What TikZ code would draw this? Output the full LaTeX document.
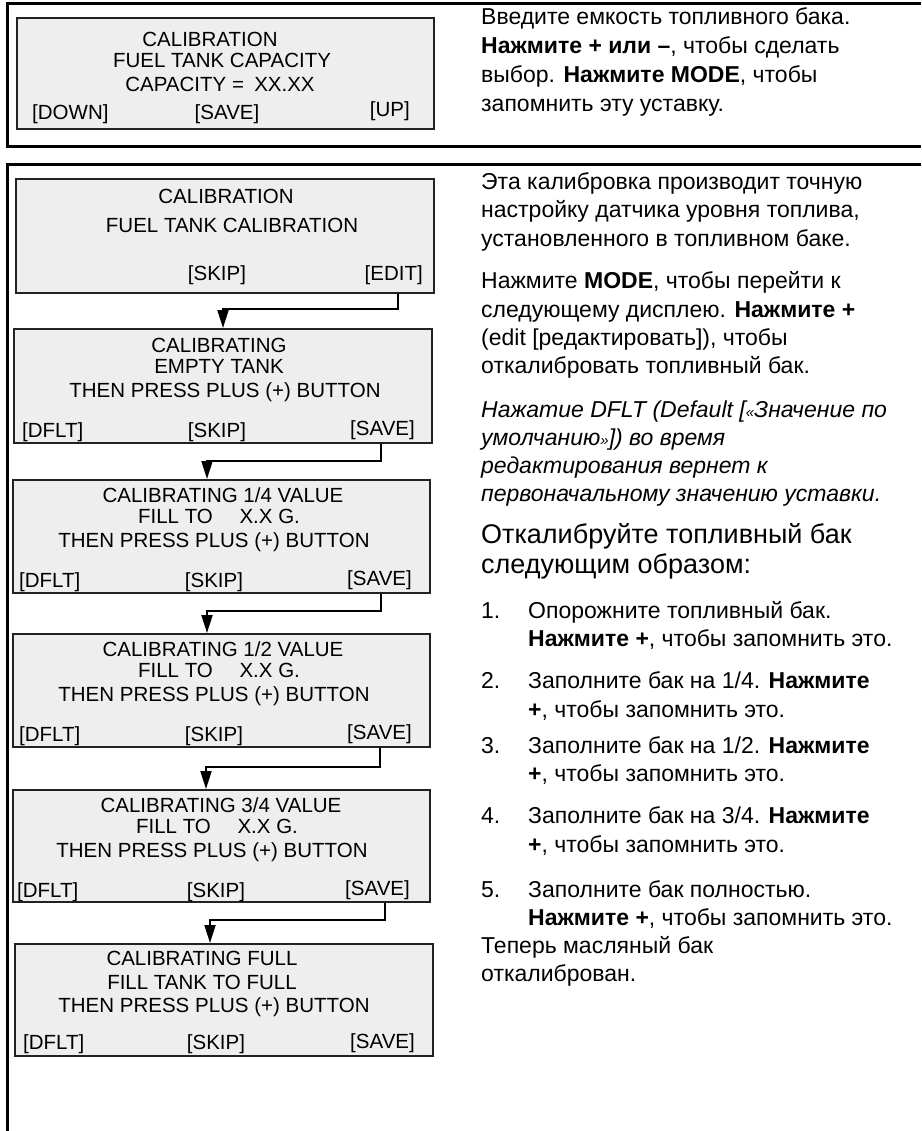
\documentclass[tikz,border=0pt]{standalone}
\usepackage{fontspec}
\setmainfont{Liberation Sans}
\usetikzlibrary{arrows.meta}
\definecolor{boxgray}{HTML}{EEEEEE}
\definecolor{boxline}{HTML}{222222}
\newcommand{\smq}[1]{{\fontsize{15}{15}\selectfont #1}}
\tikzset{
  panelframe/.style={line width=3pt, line cap=butt},
  lcd/.style={draw=boxline, line width=2pt, fill=boxgray, rectangle, inner sep=0pt, anchor=north west},
  btxt/.style={font=\fontsize{20.5}{22}\selectfont, inner sep=0pt, anchor=base},
  bl/.style={btxt, anchor=base west},
  br/.style={btxt, anchor=base east},
  rtxt/.style={font=\fontsize{23}{28.5}\selectfont, inner sep=0pt, anchor=base west},
  rhead/.style={font=\fontsize{27}{30}\selectfont, inner sep=0pt, anchor=base west},
  conn/.style={line width=2pt, line join=miter, -{Triangle[length=18pt,width=11pt]}},
}
\begin{document}
\begin{tikzpicture}[x=1pt,y=-1pt]
\useasboundingbox (0,0) rectangle (921,1131);
% panel frames
\draw[panelframe] (921,3.3) -- (7.5,3.3) -- (7.5,146.7) -- (921,146.7);
\draw[panelframe] (921,165) -- (7.5,165) -- (7.5,1131);

% ---------- box 1
\node[lcd, minimum width=417pt, minimum height=111pt] (b1) at (16,17) {};
\node[btxt] (b1a) at (210,47) {CALIBRATION};
\node[btxt] (b1b) at (222,68) {FUEL TANK CAPACITY};
\node[btxt] (b1c) at (220,92) {CAPACITY =\hspace{0.5em}XX.XX};
\node[bl] (b1d) at (32,120) {[DOWN]};
\node[btxt] (b1e) at (227,120) {[SAVE]};
\node[br] (b1f) at (410,117) {[UP]};

% ---------- box 2
\node[lcd, minimum width=418pt, minimum height=114pt] (b2) at (15,178) {};
\node[btxt] (b2a) at (226,204) {CALIBRATION};
\node[btxt] (b2b) at (232,233) {FUEL TANK CALIBRATION};
\node[btxt] (b2c) at (217,280) {[SKIP]};
\node[br] (b2d) at (423,280) {[EDIT]};

% ---------- box 3
\node[lcd, minimum width=418pt, minimum height=114pt] (b3) at (13,328) {};
\node[btxt] (b3a) at (219,352) {CALIBRATING};
\node[btxt] (b3b) at (219,373) {EMPTY TANK};
\node[btxt] (b3c) at (225,397) {THEN PRESS PLUS (+) BUTTON};
\node[bl] (b3d) at (22,437) {[DFLT]};
\node[btxt] (b3e) at (217,437) {[SKIP]};
\node[br] (b3f) at (415,435) {[SAVE]};

% ---------- box 4
\node[lcd, minimum width=417pt, minimum height=113pt] (b4) at (12,479) {};
\node[btxt] (b4a) at (223,502) {CALIBRATING 1/4 VALUE};
\node[btxt] (b4b) at (219,523) {FILL TO\hspace{1.3em}X.X G.};
\node[btxt] (b4c) at (214,547) {THEN PRESS PLUS (+) BUTTON};
\node[bl] (b4d) at (19,587) {[DFLT]};
\node[btxt] (b4e) at (214,587) {[SKIP]};
\node[br] (b4f) at (412,585) {[SAVE]};

% ---------- box 5
\node[lcd, minimum width=417pt, minimum height=113pt] (b5) at (12,633) {};
\node[btxt] (b5a) at (223,656) {CALIBRATING 1/2 VALUE};
\node[btxt] (b5b) at (219,677) {FILL TO\hspace{1.3em}X.X G.};
\node[btxt] (b5c) at (214,701) {THEN PRESS PLUS (+) BUTTON};
\node[bl] (b5d) at (19,741) {[DFLT]};
\node[btxt] (b5e) at (214,741) {[SKIP]};
\node[br] (b5f) at (412,739) {[SAVE]};

% ---------- box 6
\node[lcd, minimum width=417pt, minimum height=112pt] (b6) at (12,789) {};
\node[btxt] (b6a) at (221,812) {CALIBRATING 3/4 VALUE};
\node[btxt] (b6b) at (217,833) {FILL TO\hspace{1.3em}X.X G.};
\node[btxt] (b6c) at (212,857) {THEN PRESS PLUS (+) BUTTON};
\node[bl] (b6d) at (17,897) {[DFLT]};
\node[btxt] (b6e) at (216,897) {[SKIP]};
\node[br] (b6f) at (410,895) {[SAVE]};

% ---------- box 7
\node[lcd, minimum width=418pt, minimum height=112pt] (b7) at (14,943) {};
\node[btxt] (b7a) at (202,965) {CALIBRATING FULL};
\node[btxt] (b7b) at (202,989) {FILL TANK TO FULL};
\node[btxt] (b7c) at (214,1012) {THEN PRESS PLUS (+) BUTTON};
\node[bl] (b7d) at (23,1049) {[DFLT]};
\node[btxt] (b7e) at (216,1049) {[SKIP]};
\node[br] (b7f) at (415,1048) {[SAVE]};

% ---------- connectors
\draw[conn] ([xshift=-37pt]b2.south east) -- ++(0,15) -| ([xshift=210pt]b3.north west);
\draw[conn] ([xshift=-52pt]b3.south east) -- ++(0,17) -| ([xshift=195pt]b4.north west);
\draw[conn] ([xshift=-50pt]b4.south east) -- ++(0,17) -| ([xshift=195pt]b5.north west);
\draw[conn] ([xshift=-51pt]b5.south east) -- ++(0,19) -| ([xshift=194pt]b6.north west);
\draw[conn] ([xshift=-46pt]b6.south east) -- ++(0,17) -| ([xshift=196pt]b7.north west);

% ---------- right text, top panel
\node[rtxt] (r1) at (481,25) {Введите емкость топливного бака.};
\node[rtxt] (r2) at (481,54) {\textbf{Нажмите + или –}, чтобы сделать};
\node[rtxt] (r3) at (481,83) {выбор. \textbf{Нажмите MODE}, чтобы};
\node[rtxt] (r4) at (481,112) {запомнить эту уставку.};

% ---------- right text, lower panel
\node[rtxt] (s1) at (481,190) {Эта калибровка производит точную};
\node[rtxt] (s2) at (481,218) {настройку датчика уровня топлива,};
\node[rtxt] (s3) at (481,247) {установленного в топливном баке.};
\node[rtxt] (s4) at (481,288) {Нажмите \textbf{MODE}, чтобы перейти к};
\node[rtxt] (s5) at (481,317) {следующему дисплею. \textbf{Нажмите +}};
\node[rtxt] (s6) at (481,345) {(edit [редактировать]), чтобы};
\node[rtxt] (s7) at (481,373) {откалибровать топливный бак.};
\node[rtxt] (s8) at (481,417) {\itshape Нажатие DFLT (Default [\smq{«}Значение по};
\node[rtxt] (s9) at (481,445) {\itshape умолчанию\smq{»}]) во время};
\node[rtxt] (s10) at (481,473) {\itshape редактирования вернет к};
\node[rtxt] (s11) at (481,501) {\itshape первоначальному значению уставки.};
\node[rhead] (h1) at (481,543) {Откалибруйте топливный бак};
\node[rhead] (h2) at (481,573) {следующим образом:};

\node[rtxt] (n1) at (481,618) {1.};
\node[rtxt] (n1a) at (528,618) {Опорожните топливный бак.};
\node[rtxt] (n1b) at (528,646) {\textbf{Нажмите +}, чтобы запомнить это.};
\node[rtxt] (n2) at (481,688) {2.};
\node[rtxt] (n2a) at (528,688) {Заполните бак на 1/4. \textbf{Нажмите}};
\node[rtxt] (n2b) at (528,717) {\textbf{+}, чтобы запомнить это.};
\node[rtxt] (n3) at (481,753) {3.};
\node[rtxt] (n3a) at (528,753) {Заполните бак на 1/2. \textbf{Нажмите}};
\node[rtxt] (n3b) at (528,781) {\textbf{+}, чтобы запомнить это.};
\node[rtxt] (n4) at (481,823) {4.};
\node[rtxt] (n4a) at (528,823) {Заполните бак на 3/4. \textbf{Нажмите}};
\node[rtxt] (n4b) at (528,852) {\textbf{+}, чтобы запомнить это.};
\node[rtxt] (n5) at (481,897) {5.};
\node[rtxt] (n5a) at (528,897) {Заполните бак полностью.};
\node[rtxt] (n5b) at (528,925) {\textbf{Нажмите +}, чтобы запомнить это.};
\node[rtxt] (t1) at (481,953) {Теперь масляный бак};
\node[rtxt] (t2) at (481,981) {откалиброван.};
\end{tikzpicture}
\end{document}
